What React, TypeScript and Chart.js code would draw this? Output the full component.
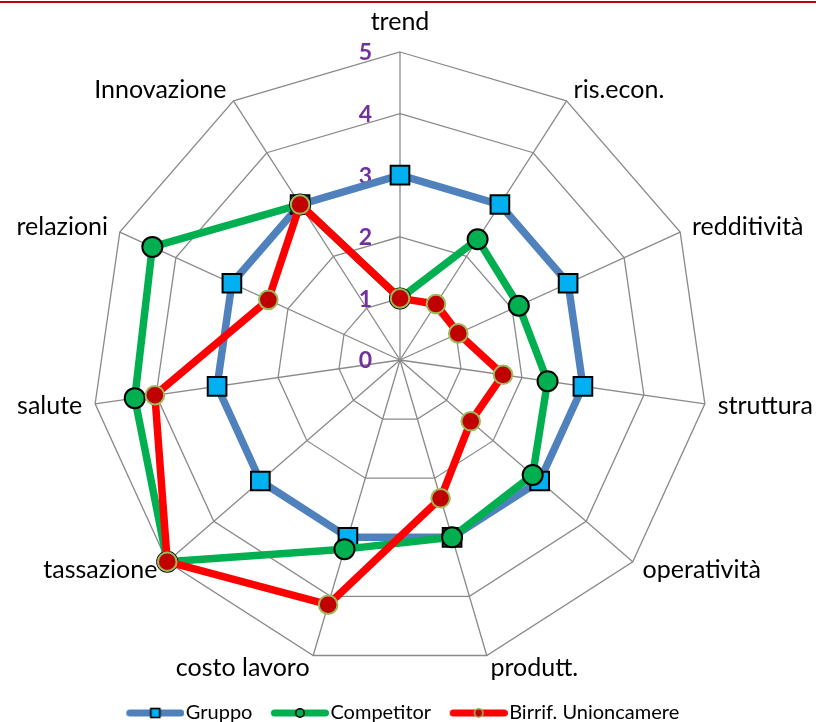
import React, { useEffect, useRef } from "react";
import { Chart, registerables } from "chart.js";

Chart.register(...registerables);

// ---------- data ----------
const CATEGORIES = [
  "trend",
  "ris.econ.",
  "redditività",
  "struttura",
  "operatività",
  "produtt.",
  "costo lavoro",
  "tassazione",
  "salute",
  "relazioni",
  "Innovazione",
];
const SERIES_NAMES = ["Gruppo", "Competitor", "Birrif. Unioncamere"];
const GRUPPO = [3, 3, 3, 3, 3, 3, 3, 3, 3, 3, 3];
const COMPETITOR = [1, 2.33, 2.12, 2.42, 2.85, 3, 3.2, 5, 4.35, 4.42, 3];
const BIRRIF = [1, 1.08, 1.04, 1.69, 1.52, 2.34, 4.14, 5, 4.02, 2.35, 3];
const TICK_LABELS = ["0", "1", "2", "3", "4", "5"];

// ---------- styles ----------
const FONT = "Lato, 'Noto Sans', sans-serif";
const BLUE_LINE = "#4F81BD";
const BLUE_MARK = "#00B0F0";
const GREEN = "#00B050";
const RED_LINE = "#FF0000";
const RED_MARK = "#C00000";
const RED_MARK_BORDER = "#9BBB59";
const GRID = "#8a8a8a";
const TICK_COLOR = "#7030A0";

function makeLegendIcon(
  lineColor: string,
  marker: "rect" | "circle",
  fill: string,
  stroke: string
): HTMLCanvasElement {
  const c = document.createElement("canvas");
  c.width = 72;
  c.height = 14;
  const g = c.getContext("2d")!;
  g.strokeStyle = lineColor;
  g.lineWidth = 7;
  g.lineCap = "round";
  g.beginPath();
  g.moveTo(17.5, 7);
  g.lineTo(68.5, 7);
  g.stroke();
  g.fillStyle = fill;
  g.strokeStyle = stroke;
  g.lineWidth = 1.6;
  if (marker === "rect") {
    g.fillRect(38.5, 2.5, 9, 9);
    g.strokeRect(38.5, 2.5, 9, 9);
  } else {
    g.beginPath();
    g.arc(43, 7, 4.2, 0, Math.PI * 2);
    g.fill();
    g.stroke();
  }
  return c;
}

const tickLabelPlugin = {
  id: "excelTickLabels",
  beforeDatasetsDraw(chart: any) {
    const s = chart.scales.r;
    const ctx = chart.ctx;
    ctx.save();
    ctx.font = `bold 23px ${FONT}`;
    ctx.fillStyle = TICK_COLOR;
    ctx.textAlign = "right";
    ctx.textBaseline = "middle";
    TICK_LABELS.forEach((t) => {
      const d = s.getDistanceFromCenterForValue(Number(t));
      ctx.fillText(t, s.xCenter - 28, s.yCenter - d + 1);
    });
    ctx.restore();
  },
};

const pointLabelPlugin = {
  id: "excelPointLabels",
  beforeDatasetsDraw(chart: any) {
    const s = chart.scales.r;
    const ctx = chart.ctx;
    const labels: string[] = chart.data.labels;
    ctx.save();
    ctx.font = `25px ${FONT}`;
    ctx.fillStyle = "#000";
    labels.forEach((label, i) => {
      const p = s.getPointPosition(i, s.drawingArea + 13);
      if (Math.abs(p.x - s.xCenter) < 1) {
        ctx.textAlign = "center";
        ctx.textBaseline = "alphabetic";
        ctx.fillText(label, p.x, p.y - 9);
      } else {
        ctx.textAlign = p.x > s.xCenter ? "left" : "right";
        ctx.textBaseline = "middle";
        ctx.fillText(label, p.x, p.y);
      }
    });
    ctx.restore();
  },
};

export default function App() {
  const ref = useRef<HTMLCanvasElement | null>(null);

  useEffect(() => {
    if (!ref.current) return;
    const icons = [
      makeLegendIcon(BLUE_LINE, "rect", BLUE_MARK, "#000"),
      makeLegendIcon(GREEN, "circle", GREEN, "#000"),
      makeLegendIcon(RED_LINE, "circle", RED_MARK, RED_MARK_BORDER),
    ];
    const chart = new Chart(ref.current, {
      type: "radar",
      data: {
        labels: CATEGORIES,
        datasets: [
          {
            label: SERIES_NAMES[0],
            data: GRUPPO,
            borderColor: BLUE_LINE,
            backgroundColor: "transparent",
            fill: false,
            borderWidth: 7.5,
            pointStyle: "rect",
            pointRadius: 13.2,
            pointBackgroundColor: BLUE_MARK,
            pointBorderColor: "#000",
            pointBorderWidth: 2,
            order: 3,
          },
          {
            label: SERIES_NAMES[1],
            data: COMPETITOR,
            borderColor: GREEN,
            backgroundColor: "transparent",
            fill: false,
            borderWidth: 7.5,
            pointStyle: "circle",
            pointRadius: 10,
            pointBackgroundColor: GREEN,
            pointBorderColor: "#000",
            pointBorderWidth: 2,
            order: 2,
          },
          {
            label: SERIES_NAMES[2],
            data: BIRRIF,
            borderColor: RED_LINE,
            backgroundColor: "transparent",
            fill: false,
            borderWidth: 7.5,
            pointStyle: "circle",
            pointRadius: 9.3,
            pointBackgroundColor: RED_MARK,
            pointBorderColor: RED_MARK_BORDER,
            pointBorderWidth: 2,
            order: 1,
          },
        ],
      },
      options: {
        responsive: false,
        animation: false,
        layout: { padding: { left: 92, right: 108, top: 31, bottom: -11 } },
        elements: { line: { borderJoinStyle: "round", tension: 0 } },
        scales: {
          r: {
            min: 0,
            max: 5,
            ticks: { display: false, stepSize: 1 },
            grid: { color: GRID, lineWidth: 1.3 },
            angleLines: { color: GRID, lineWidth: 1.3 },
            pointLabels: { display: false },
          },
        },
        plugins: {
          tooltip: { enabled: false },
          legend: {
            position: "bottom",
            labels: {
              usePointStyle: true,
              pointStyleWidth: 55,
              padding: 13,
              color: "#000",
              font: { family: FONT, size: 20 },
              generateLabels: (c: any) =>
                c.data.datasets.map((ds: any, i: number) => ({
                  text: ds.label,
                  pointStyle: icons[i],
                  fillStyle: "transparent",
                  strokeStyle: "transparent",
                  lineWidth: 0,
                  fontColor: "#000",
                  hidden: false,
                  datasetIndex: i,
                })),
            },
          },
        },
      },
      plugins: [tickLabelPlugin, pointLabelPlugin],
    } as any);
    return () => chart.destroy();
  }, []);

  return (
    <div
      style={{
        position: "fixed",
        left: 0,
        top: 0,
        width: 816,
        height: 722,
        background: "#fff",
        overflow: "hidden",
      }}
    >
      <div
        style={{
          position: "absolute",
          left: 0,
          top: 1,
          width: 816,
          height: 2,
          background: "#C00000",
        }}
      />
      <canvas ref={ref} width={816} height={722} style={{ display: "block" }} />
    </div>
  );
}
